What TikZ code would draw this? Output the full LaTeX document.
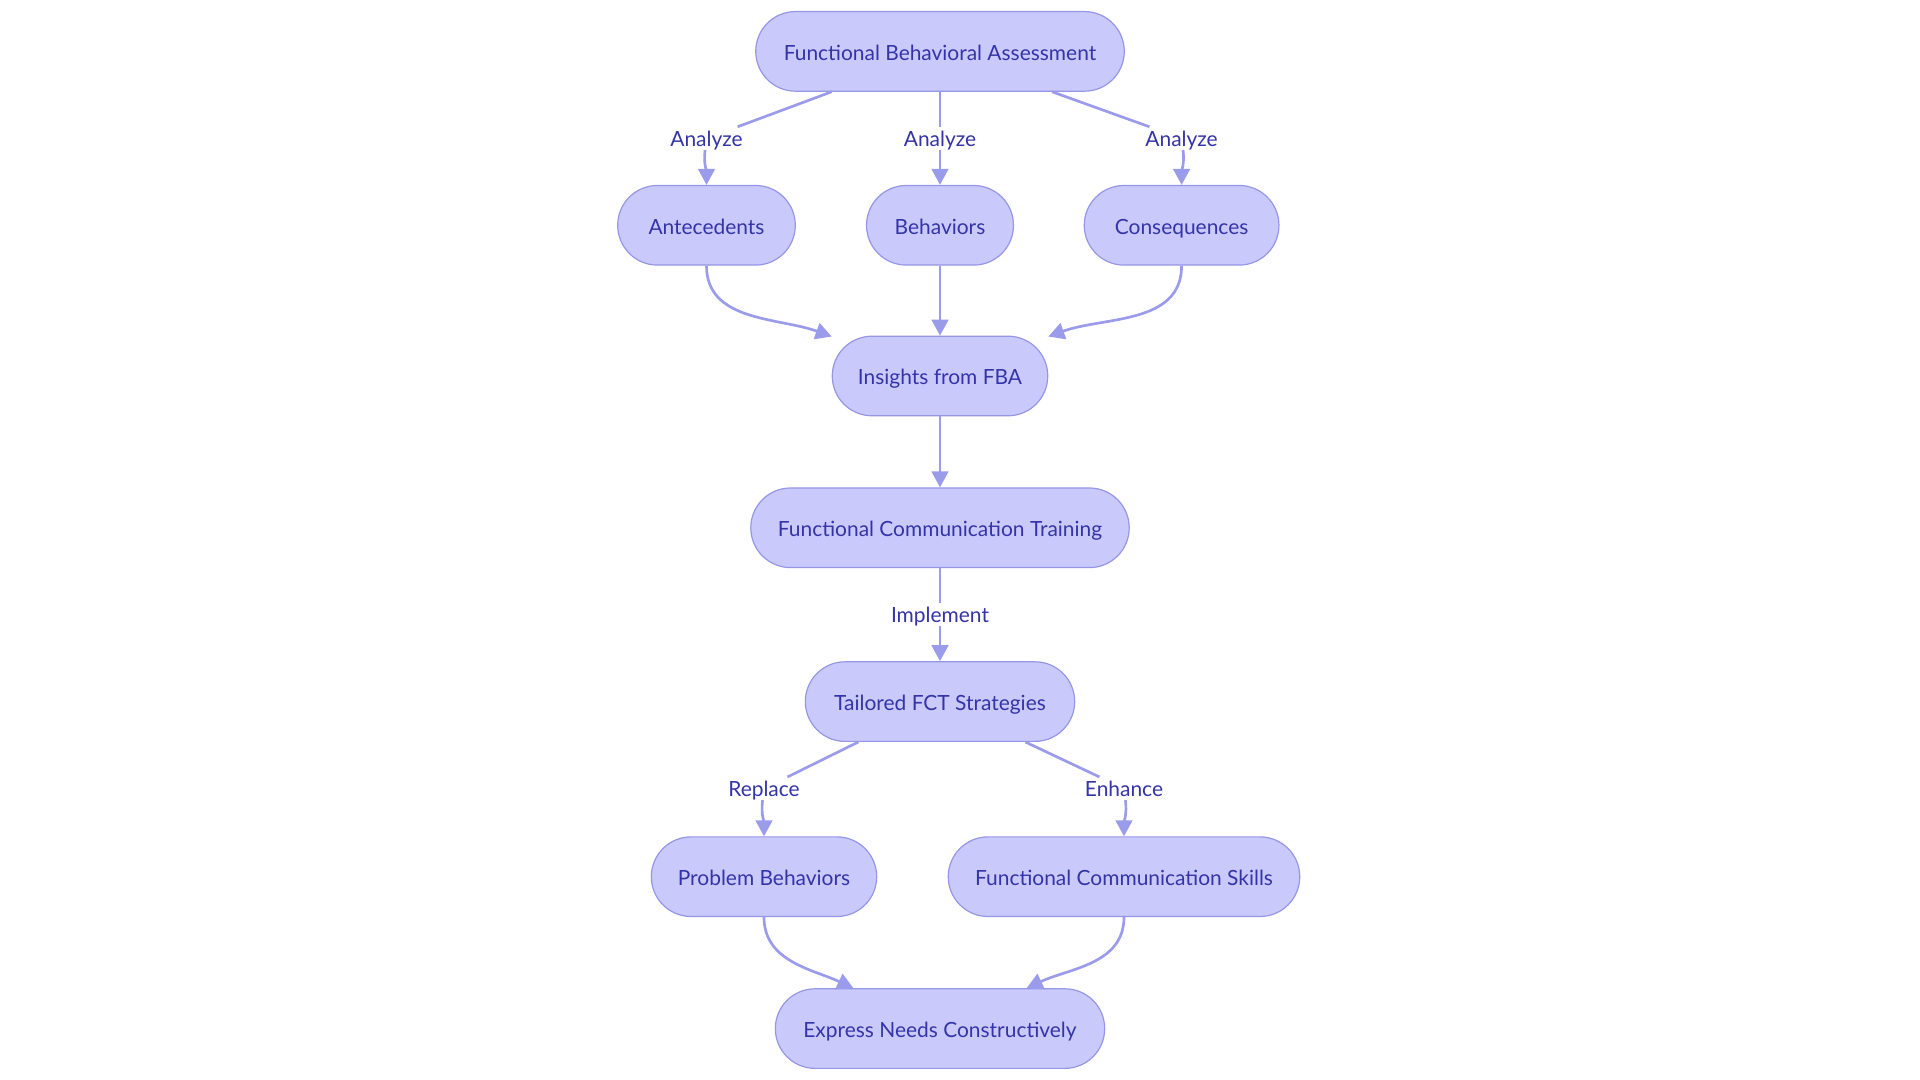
\documentclass[tikz,border=0pt]{standalone}
\usepackage{fontspec}
\setmainfont{Lato}
\usepackage{tikz}
\usetikzlibrary{arrows.meta}

\definecolor{boxfill}{RGB}{201,201,252}
\definecolor{boxline}{RGB}{150,150,230}
\definecolor{edgecol}{RGB}{155,155,235}
\definecolor{txtcol}{RGB}{52,52,168}

\tikzset{
  box/.style={draw=boxline, fill=boxfill, line width=0.9pt, rounded corners=29.8pt,
    minimum height=59.7pt, inner xsep=8pt, text height=14pt, text depth=0.8pt,
    text=txtcol, font=\fontsize{15.7}{18}\selectfont},
  lbl/.style={fill=white, text=txtcol, inner xsep=1pt, inner ysep=2pt, text height=12.5pt,
    text depth=0.5pt, font=\fontsize{15.7}{18}\selectfont},
  edge/.style={draw=edgecol, line width=2pt, -{Triangle[length=12pt,width=12.5pt]}}
}

\begin{document}
\begin{tikzpicture}[x=0.75pt,y=0.75pt]
\useasboundingbox (0,0) rectangle (1920,1080);

\node[box, minimum width=276.4pt](fba) at (940,1028.6) {Functional Behavioral Assessment};

\node[box, minimum width=133.2pt](ante) at (706.5,854.7) {Antecedents};

\node[box, minimum width=110.2pt](beh) at (940,854.7) {Behaviors};

\node[box, minimum width=146pt](cons) at (1181.6,854.7) {Consequences};

\node[box, minimum width=161.6pt](ins) at (940,704) {Insights from FBA};

\node[box, minimum width=283.8pt](fct) at (940,552.2) {Functional Communication Training};

\node[box, minimum width=202pt](tail) at (940,378.4) {Tailored FCT Strategies};

\node[box, minimum width=169pt](prob) at (764,203.3) {Problem Behaviors};

\node[box, minimum width=263.6pt](skil) at (1124,203.3) {Functional Communication Skills};

\node[box, minimum width=247pt](expr) at (940,51.4) {Express Needs Constructively};

% edge labels
\node[lbl](a1) at (706.5,941.6) {Analyze};
\node[lbl](a2) at (940,941.6) {Analyze};
\node[lbl](a3) at (1181.6,941.6) {Analyze};
\node[lbl](imp) at (940,465.3) {Implement};
\node[lbl](r1) at (764,291.4) {Replace};
\node[lbl](e1) at (1124,291.4) {Enhance};

\foreach \from/\lab/\to in {fba/a2/beh, fct/imp/tail}
    \draw[edge] (\from) -- (\lab) -- (\to);

\foreach \from/\lab/\to/\o in {fba/a1/ante/-97, fba/a3/cons/-83, tail/r1/prob/-97, tail/e1/skil/-83}
    \draw[edge] (\from) -- (\lab) to[out=\o,in=90] (\to);

\foreach \from/\to/\i in {ante/ins/160, cons/ins/20, prob/expr/155, skil/expr/25}
    \draw[edge] (\from) to[out=-90,in=\i] (\to);

\foreach \from/\to in {beh/ins, ins/fct}
    \draw[edge] (\from) -- (\to);

\end{tikzpicture}
\end{document}
